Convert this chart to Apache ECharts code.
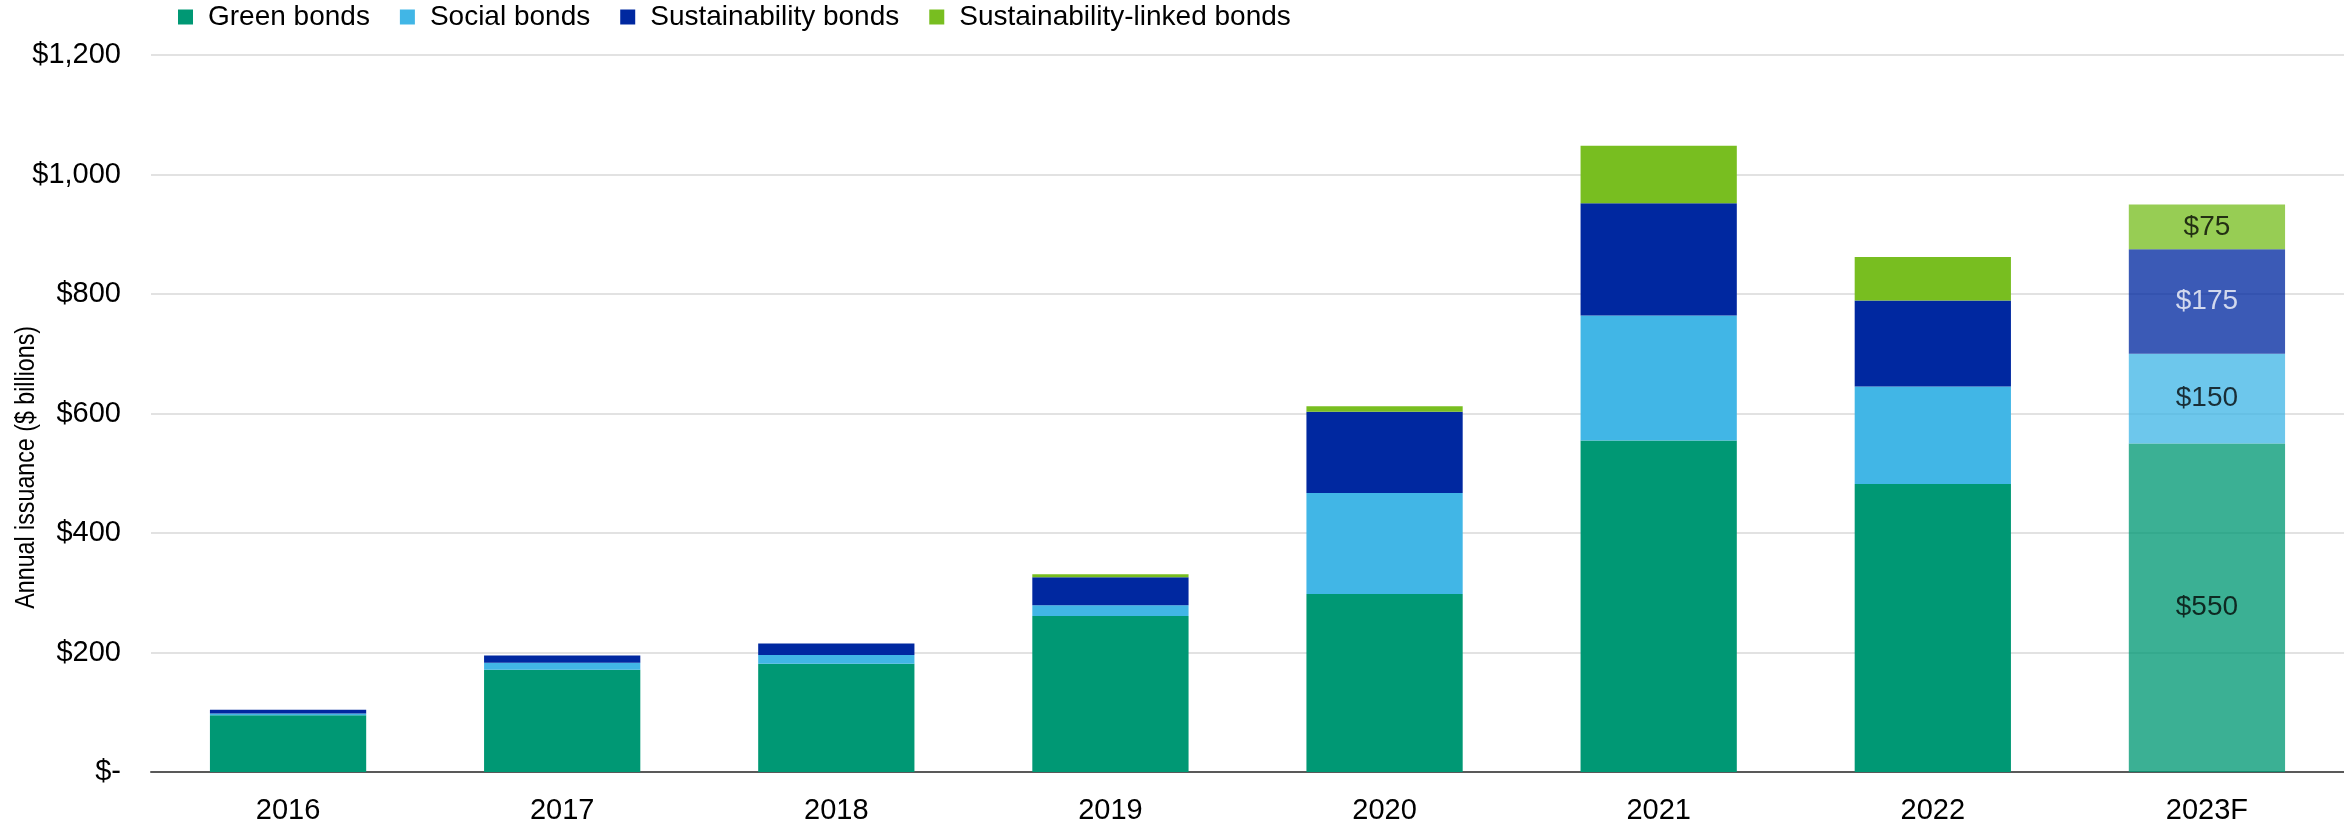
<!DOCTYPE html>
<html>
<head>
<meta charset="utf-8">
<script src="https://cdn.jsdelivr.net/npm/echarts@6/dist/echarts.min.js"></script>
<style>
  html, body { margin: 0; padding: 0; background: #fff; }
  #chart { width: 2344px; height: 825px; }
</style>
</head>
<body>
<div id="chart"></div>
<script>
// values ($ billions)
var years = ["2016", "2017", "2018", "2019", "2020", "2021", "2022", "2023F"];
var green = [95, 171, 181, 261, 298, 555, 482, 550];
var social = [3, 12, 15, 18, 169, 209, 163, 150];
var sustainability = [6, 12, 19, 47, 136, 188, 144, 175];
var linked = [0, 0, 0, 5, 9, 96, 73, 75];
var yTicks = [0, 200, 400, 600, 800, 1000, 1200];

var names = ["Green bonds", "Social bonds", "Sustainability bonds", "Sustainability-linked bonds"];
var colors = ["#009874", "#41b6e6", "#0028a0", "#78be20"];
var labelColors = ["#000", "#000", "#fff", "#000"];
var fontFamily = "Arial, 'Liberation Sans', sans-serif";

// the forecast year is drawn lighter and labelled
function buildData(values, idx) {
  return values.map(function (v, i) {
    if (years[i] !== "2023F") return v;
    return {
      value: v,
      itemStyle: { opacity: 0.77 },
      label: {
        show: true,
        position: "inside",
        formatter: "${c}",
        color: labelColors[idx],
        fontSize: 28,
        fontFamily: fontFamily
      }
    };
  });
}

var series = [green, social, sustainability, linked].map(function (arr, idx) {
  return {
    name: names[idx],
    type: "bar",
    stack: "total",
    barWidth: "57%",
    itemStyle: { color: colors[idx] },
    data: buildData(arr, idx)
  };
});

var chart = echarts.init(document.getElementById("chart"));
chart.setOption({
  animation: false,
  textStyle: { fontFamily: fontFamily },
  legend: {
    left: 178,
    top: 3,
    padding: 0,
    itemWidth: 15,
    itemHeight: 15,
    itemGap: 30,
    icon: "rect",
    textStyle: { fontSize: 28, color: "#000", fontFamily: fontFamily, padding: [0, 0, 0, 10] },
    data: names
  },
  grid: { left: 151, right: 0, top: 55, bottom: 49 },
  xAxis: {
    type: "category",
    data: years,
    axisTick: { show: false },
    axisLine: { lineStyle: { color: "#595959", width: 2 } },
    axisLabel: { fontSize: 29, color: "#000", margin: 24 }
  },
  yAxis: {
    type: "value",
    min: yTicks[0],
    max: yTicks[yTicks.length - 1],
    interval: 200,
    axisLine: { show: false },
    axisTick: { show: false },
    splitLine: { lineStyle: { color: "#d9d9d9", width: 1.5 } },
    axisLabel: {
      fontSize: 29,
      color: "#000",
      margin: 30,
      formatter: function (v) {
        if (v === 0) return "$-";
        return "$" + v.toLocaleString("en-US");
      }
    }
  },
  graphic: [{
    type: "text",
    left: 13,
    top: 326,
    rotation: Math.PI / 2,
    scaleX: 0.86,
    style: {
      text: "Annual issuance ($ billions)",
      fontSize: 27,
      fill: "#000",
      fontFamily: fontFamily
    }
  }],
  series: series
});
</script>
</body>
</html>
